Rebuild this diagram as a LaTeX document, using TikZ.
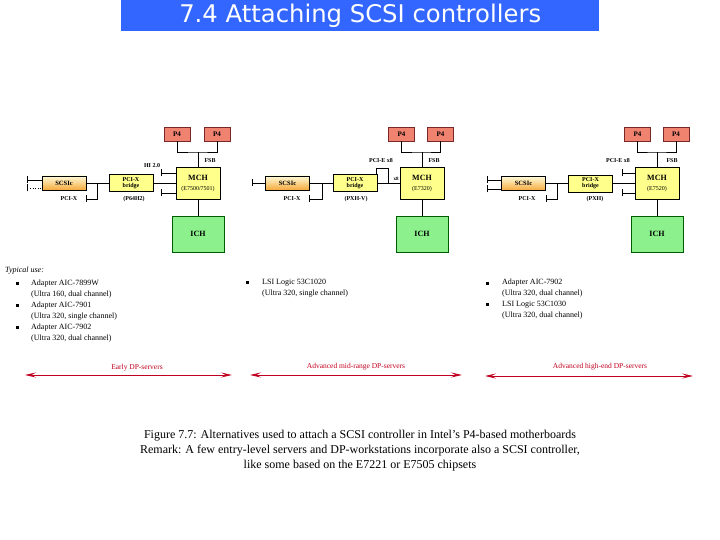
\documentclass[tikz,border=0pt]{standalone}
\usepackage{fontspec}
\setmainfont{Liberation Serif}
\newfontfamily\titlefont{DejaVu Sans}
\usetikzlibrary{arrows.meta}
\definecolor{titleblue}{RGB}{51,102,255}
\definecolor{p4red}{RGB}{240,130,112}
\definecolor{p4border}{RGB}{120,40,40}
\definecolor{hubyellow}{RGB}{255,255,140}
\definecolor{ichgreen}{RGB}{140,240,140}
\definecolor{ichborder}{RGB}{0,90,0}
\definecolor{scsitop}{RGB}{255,250,215}
\definecolor{scsibot}{RGB}{245,170,60}
\definecolor{darkred}{RGB}{192,0,32}
\begin{document}
\begin{tikzpicture}[x=1pt,y=-1pt,
  box/.style={draw, inner sep=0pt, align=center, line width=0.5pt},
  p4/.style={box, fill=p4red, draw=p4border, minimum width=26pt, minimum height=14pt, font=\fontsize{7}{8}\selectfont\bfseries},
  mch/.style={box, fill=hubyellow, minimum width=44pt, minimum height=32pt, font=\fontsize{6}{7}\selectfont},
  ich/.style={box, fill=ichgreen, draw=ichborder, minimum width=52pt, minimum height=36pt, font=\fontsize{8}{9}\selectfont\bfseries},
  bridgebox/.style={box, fill=hubyellow, minimum width=44pt, minimum height=17pt, font=\fontsize{6}{6}\selectfont\bfseries},
  scsibox/.style={box, top color=scsitop, bottom color=scsibot, minimum width=44pt, minimum height=14pt, font=\fontsize{6.5}{7}\selectfont\bfseries},
  wire/.style={draw, line width=0.6pt},
  stub/.style={wire, {Bar[width=7pt]}-},
  lbl/.style={inner sep=0pt, font=\fontsize{6}{7}\selectfont\bfseries},
  txt/.style={inner sep=0pt, anchor=west, align=left, font=\fontsize{8}{11}\selectfont},
  bul/.style={fill=black, inner sep=0pt, minimum size=3pt},
  redarrow/.style={draw=darkred, line width=0.9pt, {Stealth[length=11pt,width=5pt,inset=4.5pt]}-{Stealth[length=11pt,width=5pt,inset=4.5pt]}},
  redlbl/.style={inner sep=0pt, text=darkred, font=\fontsize{7.5}{9}\selectfont}
]
\useasboundingbox (0,0) rectangle (720,540);

% title
\node[fill=titleblue, minimum width=478pt, minimum height=31pt, inner sep=0pt, anchor=north west,
      text=white, font=\titlefont\fontsize{24.3}{26}\selectfont] (title) at (121,0) {7.4 Attaching SCSI controllers};

% ---------- left diagram ----------
\node[p4] (a1) at (177,134) {P4};
\node[p4] (a2) at (217,134) {P4};
\node[mch] (m1) at (198,183.5) {{\fontsize{8}{9}\selectfont\bfseries MCH}\\[3pt](E7500/7501)};
\node[ich] (i1) at (198,234) {ICH};
\node[bridgebox] (b1) at (131,183) {PCI-X\\bridge};
\node[scsibox] (s1) at (64,183) {SCSIc};
\coordinate (f1) at (198,152);
\draw[wire] (a1.south) |- (f1) -| (a2.south);
\draw[wire] (f1) -- (m1.north);
\draw[wire] (m1.south) -- (i1.north);
\draw[wire] (b1.east) -- (b1.east -| m1.west);
\coordinate (h1a) at (161,173);
\coordinate (h1b) at (161,193);
\draw[stub] (h1a) -- (h1a -| m1.west);
\draw[stub] (h1b) -- (h1b -| m1.west);
\draw[wire] (s1.east) -- (b1.west);
\coordinate (j1) at (97,183);
\coordinate (t1) at (86,199);
\draw[stub] (t1) -| (j1);
\coordinate (l1a) at (27,180);
\coordinate (l1b) at (27,188);
\draw[stub] (l1a) -- (l1a -| s1.west);
\draw[stub, dotted] (l1b) -- (l1b -| s1.west);
\node[lbl] (fsb1) at (210,161) {FSB};
\node[lbl] (hi1) at (152,166) {HI 2.0};
\node[lbl] (c1) at (134,199) {(P64H2)};
\node[lbl] (px1) at (69,199) {PCI-X};

% ---------- middle diagram ----------
\node[p4] (a3) at (401.5,134) {P4};
\node[p4] (a4) at (440.5,134) {P4};
\node[mch] (m2) at (422,183) {{\fontsize{8}{9}\selectfont\bfseries MCH}\\[3pt](E7320)};
\node[ich] (i2) at (422,234) {ICH};
\node[bridgebox] (b2) at (355,183) {PCI-X\\bridge};
\node[scsibox] (s2) at (287.5,183) {SCSIc};
\coordinate (f2) at (422,152);
\draw[wire] (a3.south) |- (f2) -| (a4.south);
\draw[wire] (f2) -- (m2.north);
\draw[wire] (m2.south) -- (i2.north);
\draw[wire] (b2.east) -- (b2.east -| m2.west);
\coordinate (k2) at (388,183);
\coordinate (k2t) at (388,168);
\coordinate (k2e) at (376,174);
\draw[wire] (k2) -- (k2t) -| (k2e);
\draw[wire] (s2.east) -- (b2.west);
\coordinate (j2) at (322,183);
\coordinate (t2) at (309,199);
\draw[stub] (t2) -| (j2);
\coordinate (l2a) at (252,183);
\draw[stub] (l2a) -- (l2a -| s2.west);
\node[lbl] (fsb2) at (434,161) {FSB};
\node[lbl] (pe2) at (381,161) {PCI-E x8};
\node[lbl, font=\fontsize{5}{6}\selectfont\bfseries] (x82) at (396,179) {x8};
\node[lbl] (c2) at (356,199) {(PXH-V)};
\node[lbl] (px2) at (292,199) {PCI-X};

% ---------- right diagram ----------
\node[p4] (a5) at (637.5,134) {P4};
\node[p4] (a6) at (676,134) {P4};
\node[mch] (m3) at (657,183.5) {{\fontsize{8}{9}\selectfont\bfseries MCH}\\[3pt](E7520)};
\node[ich] (i3) at (657,234) {ICH};
\node[bridgebox] (b3) at (590.5,183.5) {PCI-X\\bridge};
\node[scsibox] (s3) at (523.5,183.5) {SCSIc};
\coordinate (f3) at (657,152);
\draw[wire] (a5.south) |- (f3) -| (a6.south);
\draw[wire] (f3) -- (m3.north);
\draw[wire] (m3.south) -- (i3.north);
\draw[wire] (b3.east) -- (b3.east -| m3.west);
\coordinate (h3a) at (622,173);
\coordinate (h3b) at (622,193);
\draw[stub] (h3a) -- (h3a -| m3.west);
\draw[stub] (h3b) -- (h3b -| m3.west);
\draw[wire] (s3.east) -- (b3.west);
\coordinate (j3) at (557,183.5);
\coordinate (t3) at (546,199);
\draw[stub] (t3) -| (j3);
\coordinate (l3a) at (487,180);
\coordinate (l3b) at (487,189);
\draw[stub] (l3a) -- (l3a -| s3.west);
\draw[stub] (l3b) -- (l3b -| s3.west);
\node[lbl] (fsb3) at (672,161) {FSB};
\node[lbl] (pe3) at (618,161) {PCI-E x8};
\node[lbl] (c3) at (595,199) {(PXH)};
\node[lbl] (px3) at (527,199) {PCI-X};

% ---------- text ----------
\node[inner sep=0pt, anchor=west, font=\fontsize{8}{10}\selectfont\itshape] (typ) at (5,271) {Typical use:};
\node[bul] (u1) at (17,283) {};
\node[bul] (u2) at (17,305) {};
\node[bul] (u3) at (17,327) {};
\node[txt] (tx1) at (31,289.5) {Adapter AIC-7899W\\(Ultra 160, dual channel)};
\node[txt] (tx2) at (31,311.5) {Adapter AIC-7901\\(Ultra 320, single channel)};
\node[txt] (tx3) at (31,333.5) {Adapter AIC-7902\\(Ultra 320, dual channel)};

\node[bul] (u4) at (247,282) {};
\node[txt] (tx4) at (262,288.5) {LSI Logic 53C1020\\(Ultra 320, single channel)};

\node[bul] (u5) at (487,283) {};
\node[bul] (u6) at (487,304) {};
\node[txt] (tx5) at (502,288.5) {Adapter AIC-7902\\(Ultra 320, dual channel)};
\node[txt] (tx6) at (502,310.5) {LSI Logic 53C1030\\(Ultra 320, dual channel)};

% ---------- red arrows ----------
\coordinate (e1) at (25,375);
\coordinate (e2) at (232,375);
\draw[redarrow] (e1) -- (e2);
\node[redlbl] (r1) at (137,368) {Early DP-servers};
\coordinate (e3) at (250,375);
\coordinate (e4) at (462,375);
\draw[redarrow] (e3) -- (e4);
\node[redlbl] (r2) at (356,367) {Advanced mid-range DP-servers};
\coordinate (e5) at (485,376);
\coordinate (e6) at (693,376);
\draw[redarrow] (e5) -- (e6);
\node[redlbl] (r3) at (600,367) {Advanced high-end DP-servers};

% ---------- caption ----------
\node[inner sep=0pt, align=center, font=\fontsize{12}{15}\selectfont] (cap) at (360,451)
  {Figure 7.7: Alternatives used to attach a SCSI controller in Intel's P4-based motherboards\\
   Remark: A few entry-level servers and DP-workstations incorporate also a SCSI controller,\\
   like some based on the E7221 or E7505 chipsets};
\end{tikzpicture}
\end{document}
